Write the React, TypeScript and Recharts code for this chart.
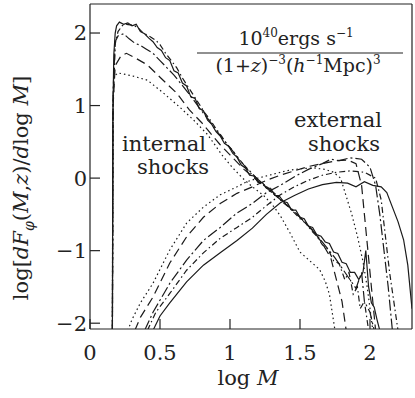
import { LineChart, Line, XAxis, YAxis } from "recharts";

type Pt = { x: number; y: number };
const pts = (arr: number[][]): Pt[] => arr.map(([x, y]) => ({ x, y }));

// internal shocks (top to bottom at the peak)
const intSolid = pts([
  [0.16, -2.1], [0.163, 0.8], [0.17, 1.7], [0.18, 2.0], [0.19, 2.1], [0.21, 2.15], [0.24, 2.12], [0.27, 2.14],
  [0.3, 2.1], [0.33, 2.12], [0.36, 2.02], [0.39, 1.99], [0.42, 1.93], [0.45, 1.88], [0.48, 1.8], [0.51, 1.76],
  [0.54, 1.66], [0.57, 1.62], [0.6, 1.48], [0.63, 1.45], [0.66, 1.31], [0.69, 1.27], [0.72, 1.12], [0.75, 1.1],
  [0.78, 0.96], [0.81, 0.93], [0.84, 0.8], [0.87, 0.74], [0.9, 0.64], [0.93, 0.58], [0.96, 0.48], [0.99, 0.44],
  [1.02, 0.34], [1.05, 0.29], [1.08, 0.18], [1.11, 0.14], [1.14, 0.04], [1.17, 0.03], [1.2, -0.06], [1.23, -0.06],
  [1.26, -0.14], [1.29, -0.14], [1.32, -0.24], [1.35, -0.24], [1.38, -0.32], [1.41, -0.34], [1.44, -0.44],
  [1.47, -0.44], [1.5, -0.54], [1.53, -0.56], [1.56, -0.66], [1.59, -0.68], [1.62, -0.78], [1.65, -0.8],
  [1.68, -0.88], [1.71, -0.9], [1.74, -1.02], [1.77, -1.04], [1.8, -1.16], [1.83, -1.18], [1.86, -1.3],
  [1.89, -1.3], [1.92, -1.4], [1.95, -1.3], [1.97, -1.0], [1.99, -1.5], [2.01, -1.72], [2.03, -1.78],
  [2.05, -1.95], [2.07, -2.1],
]);
const intDashDot = pts([
  [0.16, -2.1], [0.165, 1.0], [0.18, 1.85], [0.2, 2.02], [0.23, 2.1], [0.26, 2.12], [0.3, 2.11], [0.34, 2.08],
  [0.38, 2.0], [0.43, 1.95], [0.47, 1.9], [0.5, 1.84], [0.54, 1.72], [0.58, 1.62], [0.62, 1.52], [0.66, 1.38],
  [0.7, 1.26], [0.74, 1.14], [0.78, 1.02], [0.82, 0.9], [0.86, 0.8], [0.9, 0.68], [0.94, 0.58], [0.98, 0.46],
  [1.02, 0.38], [1.06, 0.26], [1.1, 0.18], [1.14, 0.08], [1.18, 0.02], [1.22, -0.08], [1.26, -0.12], [1.3, -0.2],
  [1.34, -0.26], [1.38, -0.34], [1.42, -0.4], [1.46, -0.48], [1.5, -0.56], [1.54, -0.62], [1.58, -0.72],
  [1.62, -0.8], [1.66, -0.92], [1.7, -0.98], [1.74, -1.14], [1.78, -1.18], [1.82, -1.4], [1.85, -1.3],
  [1.88, -1.6], [1.91, -1.5], [1.93, -1.8], [1.96, -1.7], [1.99, -2.1],
]);
const intLongDashDot = pts([
  [0.16, -2.1], [0.165, 1.2], [0.18, 1.88], [0.2, 1.96], [0.24, 1.99], [0.28, 1.92], [0.32, 1.86], [0.36, 1.83],
  [0.4, 1.78], [0.45, 1.72], [0.5, 1.62], [0.55, 1.52], [0.6, 1.42], [0.65, 1.3], [0.7, 1.18], [0.75, 1.05],
  [0.8, 0.92], [0.85, 0.8], [0.9, 0.66], [0.95, 0.54], [1.0, 0.42], [1.05, 0.3], [1.1, 0.18], [1.15, 0.08],
  [1.2, -0.02], [1.25, -0.1], [1.3, -0.18], [1.35, -0.26], [1.4, -0.36], [1.45, -0.44], [1.5, -0.54],
  [1.55, -0.64], [1.6, -0.74], [1.65, -0.86], [1.7, -0.98], [1.75, -1.1], [1.8, -1.24], [1.85, -1.38],
  [1.9, -1.52], [1.94, -1.3], [1.96, -1.7], [2.0, -1.85], [2.03, -2.1],
]);
const intLongDash = pts([
  [0.16, -2.1], [0.165, 1.0], [0.18, 1.55], [0.22, 1.68], [0.26, 1.72], [0.32, 1.66], [0.41, 1.56], [0.5, 1.39],
  [0.62, 1.17], [0.71, 0.94], [0.8, 0.76], [0.86, 0.62], [0.93, 0.46], [1.0, 0.32], [1.1, 0.12], [1.2, -0.04],
  [1.3, -0.2], [1.4, -0.36], [1.5, -0.54], [1.6, -0.74], [1.66, -0.9], [1.72, -1.1], [1.76, -1.4],
  [1.8, -1.7], [1.83, -2.1],
]);
const intDotted = pts([
  [0.16, -2.1], [0.163, 0.8], [0.17, 1.4], [0.2, 1.45], [0.3, 1.41], [0.41, 1.35], [0.52, 1.18], [0.64, 0.98],
  [0.74, 0.8], [0.84, 0.6], [0.95, 0.3], [1.02, 0.14], [1.09, 0.0], [1.16, -0.12], [1.24, -0.24],
  [1.3, -0.36], [1.36, -0.52], [1.43, -0.76], [1.5, -1.02], [1.57, -1.14], [1.64, -1.26], [1.68, -1.42],
  [1.71, -1.6], [1.73, -1.85], [1.75, -2.1],
]);

// external shocks (top to bottom on the rising side)
const extDotted = pts([
  [0.27, -2.1], [0.3, -1.95], [0.36, -1.72], [0.45, -1.45], [0.57, -0.99], [0.69, -0.62], [0.81, -0.4],
  [0.93, -0.23], [1.05, -0.12], [1.12, -0.05], [1.2, 0.0], [1.3, 0.05], [1.4, 0.1], [1.5, 0.13], [1.6, 0.14],
  [1.68, 0.12], [1.74, 0.08], [1.79, 0.0], [1.83, -0.25], [1.87, -0.5], [1.91, -0.8], [1.95, -1.15],
  [1.98, -1.5], [2.0, -1.8], [2.02, -2.1],
]);
const extLongDash = pts([
  [0.32, -2.1], [0.36, -1.92], [0.45, -1.64], [0.57, -1.17], [0.69, -0.81], [0.81, -0.54], [0.93, -0.35],
  [1.05, -0.21], [1.16, -0.12], [1.26, -0.03], [1.36, 0.04], [1.46, 0.1], [1.56, 0.16], [1.66, 0.2],
  [1.76, 0.24], [1.84, 0.25], [1.9, 0.2], [1.94, -0.1], [1.96, -0.5], [1.98, -0.9], [2.0, -1.3],
  [2.02, -1.7], [2.04, -2.1],
]);
const extLongDashDot = pts([
  [0.39, -2.1], [0.45, -1.85], [0.57, -1.45], [0.69, -1.13], [0.81, -0.86], [0.93, -0.68], [1.05, -0.48],
  [1.16, -0.35], [1.26, -0.2], [1.36, -0.1], [1.46, 0.02], [1.56, 0.12], [1.66, 0.2], [1.72, 0.26],
  [1.78, 0.24], [1.86, 0.28], [1.94, 0.26], [2.0, 0.15], [2.04, -0.1], [2.07, -0.5], [2.1, -1.0],
  [2.13, -1.5], [2.16, -2.1],
]);
const extDashDot = pts([
  [0.41, -2.1], [0.47, -1.85], [0.57, -1.59], [0.69, -1.27], [0.81, -1.03], [0.93, -0.83], [1.05, -0.68],
  [1.16, -0.54], [1.26, -0.38], [1.36, -0.23], [1.46, -0.12], [1.56, -0.03], [1.66, 0.04], [1.76, 0.08],
  [1.86, 0.1], [1.96, 0.08], [2.04, 0.0], [2.08, -0.3], [2.11, -0.8], [2.14, -1.3], [2.17, -1.7], [2.2, -2.1],
]);
const extSolid = pts([
  [0.45, -2.1], [0.5, -1.9], [0.57, -1.72], [0.69, -1.43], [0.81, -1.2], [0.93, -1.03], [1.05, -0.86],
  [1.16, -0.69], [1.26, -0.5], [1.36, -0.34], [1.46, -0.24], [1.56, -0.15], [1.66, -0.09], [1.76, -0.06],
  [1.84, -0.07], [1.9, -0.12], [1.96, -0.05], [2.02, -0.1], [2.08, -0.12], [2.12, -0.2], [2.16, -0.4],
  [2.2, -0.6], [2.24, -0.85], [2.27, -1.2], [2.29, -1.6], [2.3, -1.8],
]);

const xMajor = [0, 0.5, 1, 1.5, 2];
const xMinor = [0, 0.1, 0.2, 0.3, 0.4, 0.5, 0.6, 0.7, 0.8, 0.9, 1, 1.1, 1.2, 1.3, 1.4, 1.5, 1.6, 1.7, 1.8, 1.9, 2, 2.1, 2.2, 2.3];
const yMajor = [-2, -1, 0, 1, 2];
const yMinor = [-2, -1.8, -1.6, -1.4, -1.2, -1, -0.8, -0.6, -0.4, -0.2, 0, 0.2, 0.4, 0.6, 0.8, 1, 1.2, 1.4, 1.6, 1.8, 2, 2.2, 2.4];

const X_DOMAIN: [number, number] = [0, 2.3];
const Y_DOMAIN: [number, number] = [-2.08, 2.4];

const SOLID = undefined;
const DASH_DOT = "6 3 1.5 3";
const LONG_DASH_DOT = "11 3 2 3";
const LONG_DASH = "9 5";
const DOTTED = "1.5 3";

const series = [
  { data: intSolid, dash: SOLID },
  { data: intDashDot, dash: DASH_DOT },
  { data: intLongDashDot, dash: LONG_DASH_DOT },
  { data: intLongDash, dash: LONG_DASH },
  { data: intDotted, dash: DOTTED },
  { data: extDotted, dash: DOTTED },
  { data: extLongDash, dash: LONG_DASH },
  { data: extLongDashDot, dash: LONG_DASH_DOT },
  { data: extDashDot, dash: DASH_DOT },
  { data: extSolid, dash: SOLID },
];

const font = "'DejaVu Serif', serif";
const fmtY = (v: number) => (v < 0 ? "\u2212" + Math.abs(v) : String(v));

export default function App() {
  const axisStyle = { stroke: "#222", strokeWidth: 1.2 };
  const tickStyle = { fill: "#222", fontSize: 21, fontFamily: font };
  return (
    <div style={{ position: "absolute", left: 0, top: 0, width: 415, height: 398, background: "#fff" }}>
      <LineChart width={415} height={398} margin={{ top: 2, right: 1, bottom: 67, left: 88 }}>
        {/* major ticks (declared first so they sit on the frame) */}
        <XAxis xAxisId="main" type="number" dataKey="x" domain={X_DOMAIN} allowDataOverflow ticks={xMajor}
          interval={0} height={1} tickSize={-10} tickMargin={26} tick={tickStyle} axisLine={axisStyle}
          tickLine={axisStyle} />
        <YAxis yAxisId="main" type="number" domain={Y_DOMAIN} allowDataOverflow ticks={yMajor} interval={0}
          width={1} tickSize={-10} tickMargin={13} tick={tickStyle} tickFormatter={fmtY} axisLine={axisStyle}
          tickLine={axisStyle} />
        <XAxis xAxisId="majT" orientation="top" type="number" dataKey="x" domain={X_DOMAIN} allowDataOverflow
          ticks={xMajor} interval={0} height={1} tickSize={-10} tick={false} axisLine={axisStyle} tickLine={axisStyle} />
        <YAxis yAxisId="majR" orientation="right" type="number" domain={Y_DOMAIN} allowDataOverflow ticks={yMajor}
          interval={0} width={1} tickSize={-10} tick={false} axisLine={axisStyle} tickLine={axisStyle} />
        {/* minor ticks */}
        <XAxis xAxisId="minB" type="number" dataKey="x" domain={X_DOMAIN} allowDataOverflow ticks={xMinor}
          interval={0} height={1} tickSize={-5} tick={false} axisLine={false} tickLine={axisStyle} />
        <XAxis xAxisId="minT" orientation="top" type="number" dataKey="x" domain={X_DOMAIN} allowDataOverflow
          ticks={xMinor} interval={0} height={1} tickSize={-5} tick={false} axisLine={false} tickLine={axisStyle} />
        <YAxis yAxisId="minL" type="number" domain={Y_DOMAIN} allowDataOverflow ticks={yMinor} interval={0}
          width={1} tickSize={-5} tick={false} axisLine={false} tickLine={axisStyle} />
        <YAxis yAxisId="minR" orientation="right" type="number" domain={Y_DOMAIN} allowDataOverflow ticks={yMinor}
          interval={0} width={1} tickSize={-5} tick={false} axisLine={false} tickLine={axisStyle} />
        {series.map((s, i) => (
          <Line key={i} xAxisId="main" yAxisId="main" data={s.data} dataKey="y" type="linear" stroke="#1a1a1a"
            strokeWidth={1.2} strokeDasharray={s.dash} dot={false} isAnimationActive={false} />
        ))}
      </LineChart>
      <svg width={415} height={398} style={{ position: "absolute", left: 0, top: 0, pointerEvents: "none" }}
        fontFamily={font} fill="#222">
        <text transform="rotate(-90)" x={-188} y={28} textAnchor="middle" fontSize={21}>
          log[<tspan fontStyle="italic">dF</tspan>
          <tspan fontSize={14} fontStyle="italic" dy={6}>φ</tspan>
          <tspan dy={-6}>(</tspan><tspan fontStyle="italic">M</tspan>,<tspan fontStyle="italic">z</tspan>)/
          <tspan fontStyle="italic">d</tspan>log <tspan fontStyle="italic">M</tspan>]
        </text>
        <text x={248} y={385} textAnchor="middle" fontSize={21}>
          log <tspan fontStyle="italic">M</tspan>
        </text>
        <text x={296} y={45} textAnchor="middle" fontSize={19}>
          10<tspan fontSize={12} dy={-8}>40</tspan><tspan dy={8}>ergs s</tspan>
          <tspan fontSize={12} dy={-8}>−1</tspan>
        </text>
        <line x1={197} x2={403} y1={53} y2={53} stroke="#222" strokeWidth={1.2} />
        <text x={298} y={72} textAnchor="middle" fontSize={19}>
          (1+<tspan fontStyle="italic">z</tspan>)<tspan fontSize={12} dy={-8}>−3</tspan>
          <tspan dy={8}>(</tspan><tspan fontStyle="italic">h</tspan>
          <tspan fontSize={12} dy={-8}>−1</tspan><tspan dy={8}>Mpc)</tspan>
          <tspan fontSize={12} dy={-8}>3</tspan>
        </text>
        <text x={164} y={151} textAnchor="middle" fontSize={21}>internal</text>
        <text x={173} y={174} textAnchor="middle" fontSize={21}>shocks</text>
        <text x={338} y={127} textAnchor="middle" fontSize={21}>external</text>
        <text x={344} y={151} textAnchor="middle" fontSize={21}>shocks</text>
      </svg>
    </div>
  );
}
